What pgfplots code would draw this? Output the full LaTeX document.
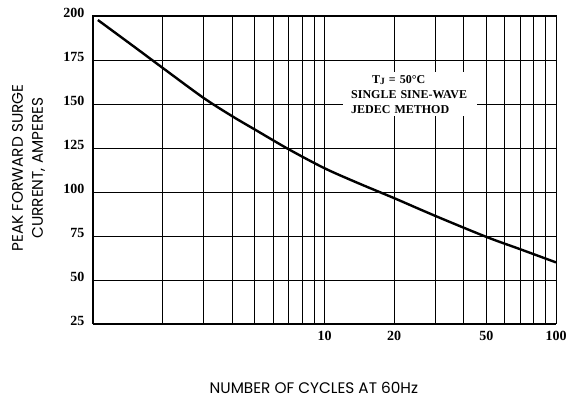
\documentclass[border=0pt]{standalone}
\usepackage{pgfplots}
\pgfplotsset{compat=1.18}
\usepackage{fontspec}
\setmainfont{Liberation Serif}
\newfontfamily\labfont{Poppins}
\begin{document}
\begin{tikzpicture}[x=1pt,y=1pt]
\useasboundingbox (0,0) rectangle (566,398);
\begin{axis}[
  at={(93pt,74pt)}, anchor=south west,
  scale only axis, width=463pt, height=308pt,
  xmode=log, xmin=1, xmax=100, ymin=25, ymax=200,
  xtick={1,2,3,4,5,6,7,8,9,10,20,30,40,50,60,70,80,90,100},
  xticklabels={,,,,,,,,,10,20,,,50,,,,,100},
  ytick={25,50,75,100,125,150,175,200},
  grid=major,
  major grid style={black, line width=0.8pt},
  major tick length=0pt,
  axis line style={black, line width=1pt},
  /pgf/number format/assume math mode=true,
  ticklabel style={font=\fontsize{14}{16}\selectfont\bfseries},
  yticklabel style={xshift=-5pt, yshift=3pt},
  xticklabel style={yshift=-4pt},
  xlabel={NUMBER OF CYCLES AT 60Hz},
  xlabel style={font=\labfont\fontsize{15.3}{20}\selectfont, inner sep=0pt, anchor=center, at={(axis description cs:0.477,-0.208)}},
  ylabel={PEAK FORWARD SURGE\\CURRENT, AMPERES},
  ylabel style={font=\labfont\fontsize{15.3}{20}\selectfont, inner sep=0pt, align=center, anchor=center, at={(axis description cs:-0.139,0.506)}},
]
\addplot[black, line width=2.4pt, smooth] coordinates {
  (1.05,197.7) (1.5,182.7) (2,170.5) (3,153.5) (4,143) (5,135.5) (7,124.3)
  (10,113.5) (14,105) (20,96.5) (30,86.5) (50,74.5) (70,67.5) (100,60)
};
\node[fill=white, anchor=north west, inner xsep=8pt, inner ysep=3pt, align=left,
      font=\fontsize{12}{15}\selectfont\bfseries, text width=118pt]
  at (axis cs:12.02,168.2)
  {\hspace*{21pt}T\raisebox{-1.5pt}{\fontsize{9.5}{9.5}\selectfont J} = 50°C\\SINGLE SINE-WAVE\\JEDEC METHOD};
\end{axis}
\end{tikzpicture}
\end{document}
